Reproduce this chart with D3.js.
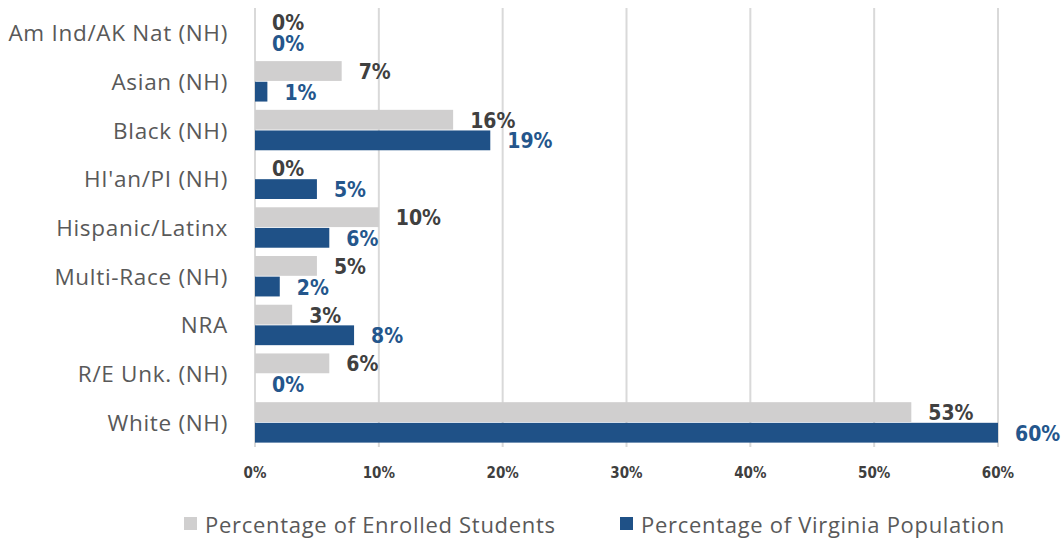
<!DOCTYPE html>
<html><head><meta charset="utf-8">
<script src="https://cdn.jsdelivr.net/npm/d3@7"></script>
<style>
body{margin:0;background:#fff;}
svg{display:block;}
.cond{font-family:"DejaVu Sans Condensed","DejaVu Sans",sans-serif;font-stretch:condensed;font-weight:bold;}
</style></head>
<body>
<script>
const categories = ["Am Ind/AK Nat (NH)","Asian (NH)","Black (NH)","HI'an/PI (NH)","Hispanic/Latinx","Multi-Race (NH)","NRA","R/E Unk. (NH)","White (NH)"];
const enrolled = [0,7,16,0,10,5,3,6,53];
const population = [0,1,19,5,6,2,8,0,60];
const seriesNames = ["Percentage of Enrolled Students","Percentage of Virginia Population"];
const xTicks = [0,10,20,30,40,50,60];

const W=1064,H=541;
const colors=["#d0cfcf","#1f5187"];
const labelColors=["#404040","#24568c"];
const svg=d3.select("body").append("svg").attr("width",W).attr("height",H);

const x=d3.scaleLinear().domain([0,60]).range([255,998]);
const y=d3.scaleBand().domain(categories).range([8,447]).paddingInner(0.17).paddingOuter(0.09);
const sub=d3.scaleBand().domain([0,1]).range([0,y.bandwidth()]).paddingInner(0.04);

// gridlines
svg.append("g").selectAll("line").data(xTicks).join("line")
  .attr("x1",d=>x(d)).attr("x2",d=>x(d)).attr("y1",8).attr("y2",447)
  .attr("stroke","#d9d9d9").attr("stroke-width",2);

// x tick labels
svg.append("g").selectAll("text").data(xTicks).join("text").attr("class","cond")
  .attr("x",d=>x(d)).attr("y",473).attr("text-anchor","middle").attr("dominant-baseline","central")
  .attr("font-size",15).attr("fill","#3f3f3f").text(d=>d+"%");

// category labels
svg.append("g").selectAll("text").data(categories).join("text")
  .attr("x",228).attr("y",d=>y(d)+y.bandwidth()/2).attr("text-anchor","end").attr("dominant-baseline","central")
  .attr("font-family","'Open Sans',sans-serif").attr("font-size",22.5).attr("letter-spacing",0.7)
  .attr("fill","#595959").text(d=>d);

const series=[enrolled,population];
series.forEach((vals,si)=>{
  const g=svg.append("g");
  g.selectAll("rect").data(vals).join("rect")
    .attr("x",x(0)).attr("y",(d,i)=>y(categories[i])+sub(si))
    .attr("width",d=>x(d)-x(0)).attr("height",sub.bandwidth()).attr("fill",colors[si]);
  g.selectAll("text").data(vals).join("text").attr("class","cond")
    .attr("x",d=>x(d)+17).attr("y",(d,i)=>y(categories[i])+sub(si)+sub.bandwidth()/2+1)
    .attr("dominant-baseline","central").attr("font-size",21).attr("fill",labelColors[si]).text(d=>d+"%");
});

// legend
const leg=[{x:184,name:seriesNames[0],c:colors[0]},{x:620,name:seriesNames[1],c:colors[1]}];
const lg=svg.append("g").selectAll("g").data(leg).join("g");
lg.append("rect").attr("x",d=>d.x).attr("y",517).attr("width",13).attr("height",13).attr("fill",d=>d.c);
lg.append("text").attr("x",d=>d.x+21).attr("y",524).attr("dominant-baseline","central")
  .attr("font-family","'Open Sans',sans-serif").attr("font-size",22).attr("letter-spacing",0.7)
  .attr("fill","#595959").text(d=>d.name);
</script>
</body></html>
